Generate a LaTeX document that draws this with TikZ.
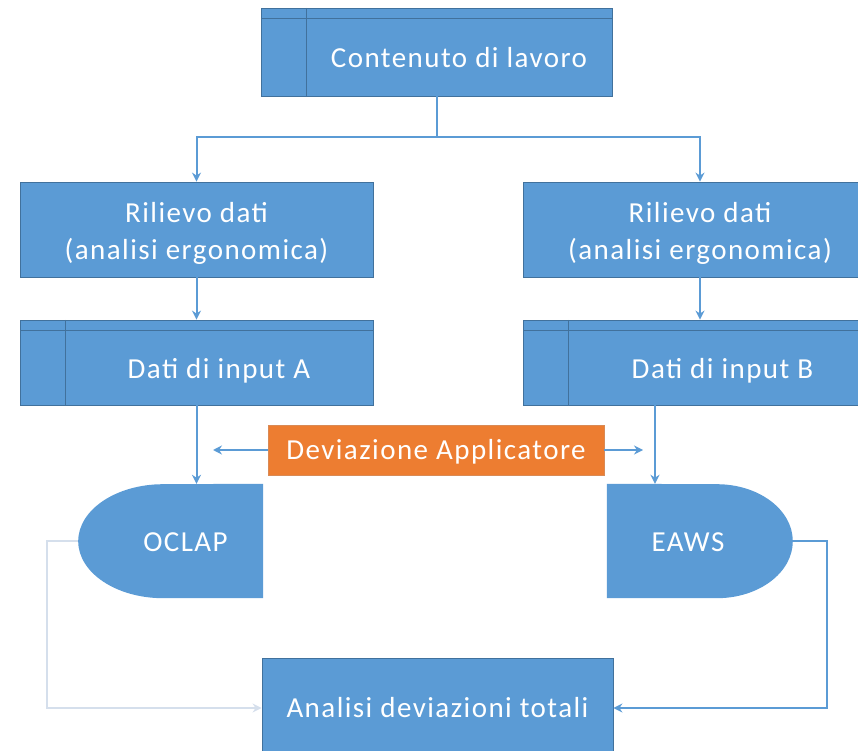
\documentclass[tikz,border=0pt]{standalone}
\usepackage{fontspec}
\setmainfont{Carlito}[LetterSpace=5]
\usetikzlibrary{arrows.meta,backgrounds}

\definecolor{boxblue}{HTML}{5B9BD5}
\definecolor{boxline}{HTML}{41719C}
\definecolor{devorange}{HTML}{ED7D31}
\definecolor{devline}{HTML}{D98A55}
\definecolor{paleline}{HTML}{D5DFEC}

\tikzset{
	block/.style={rectangle,draw=boxline,line width=0.8pt,fill=boxblue,text=white,
		font=\fontsize{29}{37}\selectfont,inner sep=0pt,
		minimum width=353pt,minimum height=95pt},
	twoline/.style={block,align=center},
	predef/.style={block,text height=38pt,text depth=6pt,execute at begin node={\hspace*{45pt}},
		path picture={
			\draw[boxline,line width=0.8pt] ([xshift=45pt]path picture bounding box.north west)
				-- ([xshift=45pt]path picture bounding box.south west);
			\draw[boxline,line width=0.8pt] ([yshift=-10pt]path picture bounding box.north west)
				-- ([yshift=-10pt]path picture bounding box.north east);}},
	devbox/.style={block,fill=devorange,draw=devline,minimum width=336pt,minimum height=50pt,
		text height=22pt,text depth=4pt},
	term/.style={rectangle,inner sep=0pt,text=white,font=\fontsize{29}{32}\selectfont,
		minimum height=114pt,text height=22pt,text depth=2pt},
	flow/.style={draw=boxblue,line width=2pt,-{Stealth[length=9pt,width=9pt]}}
}

\begin{document}
\begin{tikzpicture}[x=1pt,y=1pt]
	\useasboundingbox (0,0) rectangle (858,750);

	% boxes
	\node[predef,minimum width=351pt,minimum height=88pt] (lavoro) at (436.5,698) {Contenuto di lavoro};
	\node[twoline] (rilA) at (196.5,520.5) {\rule{0pt}{28pt}Rilievo dati\\(analisi ergonomica)};
	\node[twoline] (rilB) at (700,520.5) {\rule{0pt}{28pt}Rilievo dati\\(analisi ergonomica)};
	\node[predef,minimum height=85pt] (inA) at (196.5,387.5) {Dati di input A};
	\node[predef,minimum height=85pt] (inB) at (700,387.5) {Dati di input B};
	\node[devbox] (dev) at (436,300) {Deviazione Applicatore};
	\node[block,minimum width=351pt,minimum height=100pt] (tot) at (437.5,42) {Analisi deviazioni totali};

	% OCLAP and EAWS, flat on one side and round on the other
	\node[term,minimum width=185pt] (oclap) at (170.5,209) {\hspace*{30pt}OCLAP};
	\node[term,minimum width=186pt] (eaws) at (700,209) {EAWS\hspace*{24pt}};
	\begin{scope}[on background layer]
		\fill[boxblue] (oclap.north east) -- (oclap.south east) -- ++(-100,0)
			arc[start angle=270,end angle=90,x radius=85,y radius=57] -- cycle;
		\fill[boxblue] (eaws.north west) -- (eaws.south west) -- ++(110,0)
			arc[start angle=-90,end angle=90,x radius=76,y radius=57] -- cycle;
	\end{scope}

	\coordinate (devL) at (213,300);
	\coordinate (devR) at (643,300);
	\coordinate (loopL) at (47,209);
	\coordinate (loopR) at (827,209);

	% connectors
	\begin{scope}[every path/.style={flow}]
		\draw (lavoro.south) -- ++(0,-41) -| (rilA.north);
		\draw (lavoro.south) -- ++(0,-41) -| (rilB.north);
		\path (rilA) edge (inA);
		\path (rilB) edge (inB);
		\draw (inA.south) -- (inA.south |- oclap.north);
		\draw ([xshift=-45pt]inB.south) -- ([xshift=-45pt]eaws.north);
		\draw (dev.west) -- (devL);
		\draw (dev.east) -- (devR);
		\draw[draw=paleline] (oclap.west) -- (loopL) |- (tot.west);
		\draw (eaws.east) -- (loopR) |- (tot.east);
	\end{scope}
\end{tikzpicture}
\end{document}
